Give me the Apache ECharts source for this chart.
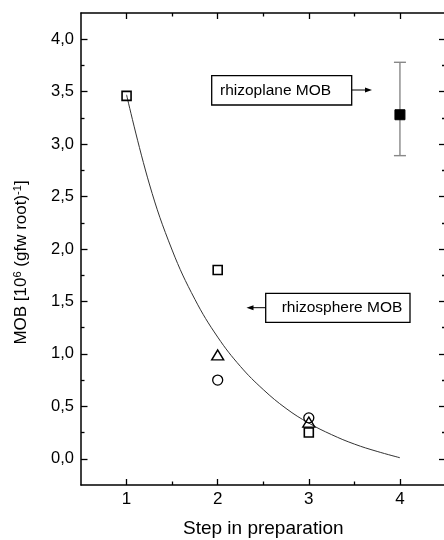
<!DOCTYPE html>
<html><head><meta charset="utf-8">
<script src="https://cdn.jsdelivr.net/npm/echarts@6/dist/echarts.min.js"></script>
<style>html,body{margin:0;padding:0;background:#fff}#c{width:444px;height:540px}</style>
</head><body><div id="c"></div>
<script>
// ---- data ----
const xTicks = [1, 2, 3, 4];
const xMinorTicks = [1.5, 2.5, 3.5];
const yTicks = [0, 0.5, 1, 1.5, 2, 2.5, 3, 3.5, 4];
const yMinorTicks = [0.25, 0.75, 1.25, 1.75, 2.25, 2.75, 3.25, 3.75];

const squareSteps = [1, 2, 3];
const squareValues = [3.46, 1.80, 0.25];
const triangleSteps = [2, 3];
const triangleValues = [0.99, 0.35];
const circleSteps = [2, 3];
const circleValues = [0.75, 0.39];

const rhizoplaneSteps = [4];
const rhizoplaneValues = [3.28];
const rhizoplaneLow = [2.89];
const rhizoplaneHigh = [3.78];

const fitSteps = [1, 1.25, 1.5, 1.75, 2, 2.25, 2.5, 2.75, 3, 3.25, 3.5, 3.75, 4];
const fitValues = [3.47, 2.62, 1.99, 1.52, 1.16, 0.88, 0.66, 0.48, 0.34, 0.23, 0.14, 0.07, 0.01];

const xName = 'Step in preparation';
const rhizoplaneLabel = 'rhizoplane MOB';
const rhizosphereLabel = 'rhizosphere MOB';

// ---- chart ----
const FONT = "'Liberation Sans', Arial, sans-serif";
const pairs = (xs, ys) => xs.map((x, i) => [x, ys[i]]);

function xAx(pos, major, labels) {
  return {
    type: 'value', position: pos, min: 0.5, max: 4.5, interval: 0.5,
    axisLine: { show: major, onZero: false, lineStyle: { color: '#000', width: 1.5 } },
    axisTick: { show: true, inside: true, length: major ? 6 : 3.5, customValues: major ? xTicks : xMinorTicks,
                lineStyle: { color: '#000', width: 1.3 } },
    axisLabel: { show: labels, customValues: xTicks, margin: 6, color: '#000', fontSize: 17, fontFamily: FONT },
    splitLine: { show: false },
    name: labels ? xName : '', nameLocation: 'middle', nameGap: 34,
    nameTextStyle: { color: '#000', fontSize: 19, fontFamily: FONT }
  };
}
function yAx(pos, major, labels) {
  return {
    type: 'value', position: pos, min: -0.25, max: 4.25, interval: 0.25,
    axisLine: { show: major, onZero: false, lineStyle: { color: '#000', width: 1.5 } },
    axisTick: { show: true, inside: true, length: major ? 6.5 : 3.5, customValues: major ? yTicks : yMinorTicks,
                lineStyle: { color: '#000', width: 1.3 } },
    axisLabel: { show: labels, customValues: yTicks, margin: 7, color: '#000', fontSize: 16.5, fontFamily: FONT,
                 formatter: v => v.toFixed(1).replace('.', ',') },
    splitLine: { show: false },
    name: labels ? 'MOB [10{sup|6} (gfw root){sup|-1}]' : '',
    nameLocation: 'middle', nameGap: 50,
    nameTextStyle: { color: '#000', fontSize: 17, fontFamily: FONT, padding: [0, 27, 0, 0],
      rich: { sup: { fontSize: 11, fontFamily: FONT, color: '#000', verticalAlign: 'top', padding: [0, 0, 8, 0] } } }
  };
}

const chart = echarts.init(document.getElementById('c'), null, { renderer: 'canvas' });
chart.setOption({
  backgroundColor: '#fff',
  animation: false,
  grid: { left: 81, top: 13, width: 364.5, height: 472, outerBoundsMode: 'none' },
  xAxis: [xAx('bottom', true, true), xAx('bottom', false, false), xAx('top', true, false), xAx('top', false, false)],
  yAxis: [yAx('left', true, true), yAx('left', false, false), yAx('right', true, false), yAx('right', false, false)],
  series: [
    { type: 'line', data: pairs(fitSteps, fitValues), smooth: 0.4, symbol: 'none',
      lineStyle: { color: '#333', width: 1 }, z: 1 },
    { type: 'custom', z: 2,
      data: rhizoplaneSteps.map((s, i) => [s, rhizoplaneLow[i], rhizoplaneHigh[i]]),
      renderItem: (params, api) => {
        const x = api.value(0);
        const lo = api.coord([x, api.value(1)]);
        const hi = api.coord([x, api.value(2)]);
        const w = 6;
        const st = { stroke: '#888', lineWidth: 1.4 };
        return { type: 'group', children: [
          { type: 'line', shape: { x1: lo[0], y1: lo[1], x2: hi[0], y2: hi[1] }, style: st },
          { type: 'line', shape: { x1: lo[0] - w, y1: lo[1], x2: lo[0] + w, y2: lo[1] }, style: st },
          { type: 'line', shape: { x1: hi[0] - w, y1: hi[1], x2: hi[0] + w, y2: hi[1] }, style: st }
        ] };
      } },
    { type: 'scatter', data: pairs(rhizoplaneSteps, rhizoplaneValues), symbol: 'rect', symbolSize: 10,
      itemStyle: { color: '#000', borderColor: '#000', borderWidth: 1, opacity: 1 }, z: 3 },
    { type: 'scatter', data: pairs(squareSteps, squareValues), symbol: 'rect', symbolSize: 9,
      itemStyle: { color: 'rgba(0,0,0,0)', borderColor: '#000', borderWidth: 1.6, opacity: 1 }, z: 3 },
    { type: 'scatter', data: pairs(triangleSteps, triangleValues), symbol: 'triangle', symbolSize: [12, 10],
      itemStyle: { color: 'rgba(0,0,0,0)', borderColor: '#000', borderWidth: 1.4, opacity: 1 }, z: 3 },
    { type: 'scatter', data: pairs(circleSteps, circleValues), symbol: 'circle', symbolSize: 10,
      itemStyle: { color: 'rgba(0,0,0,0)', borderColor: '#000', borderWidth: 1.3, opacity: 1 }, z: 3 }
  ],
  graphic: [
    { type: 'rect', shape: { x: 211.7, y: 75.7, width: 140, height: 29.3 },
      style: { fill: '#fff', stroke: '#000', lineWidth: 1.3 }, z: 10 },
    { type: 'text', x: 220, y: 90.5, style: { text: rhizoplaneLabel, fill: '#000', font: '15.5px ' + FONT,
      textAlign: 'left', textVerticalAlign: 'middle' }, z: 11 },
    { type: 'line', shape: { x1: 351.7, y1: 90, x2: 367, y2: 90 }, style: { stroke: '#000', lineWidth: 1 }, z: 10 },
    { type: 'polygon', shape: { points: [[372, 90], [365, 87.5], [365, 92.5]] }, style: { fill: '#000' }, z: 10 },

    { type: 'rect', shape: { x: 265.7, y: 293.3, width: 144.3, height: 29 },
      style: { fill: '#fff', stroke: '#000', lineWidth: 1.3 }, z: 10 },
    { type: 'text', x: 281.7, y: 308, style: { text: rhizosphereLabel, fill: '#000', font: '15.5px ' + FONT,
      textAlign: 'left', textVerticalAlign: 'middle' }, z: 11 },
    { type: 'line', shape: { x1: 265.7, y1: 307.7, x2: 252, y2: 307.7 }, style: { stroke: '#000', lineWidth: 1 }, z: 10 },
    { type: 'polygon', shape: { points: [[246.5, 307.7], [253.5, 305.2], [253.5, 310.2]] }, style: { fill: '#000' }, z: 10 }
  ]
});
</script></body></html>
